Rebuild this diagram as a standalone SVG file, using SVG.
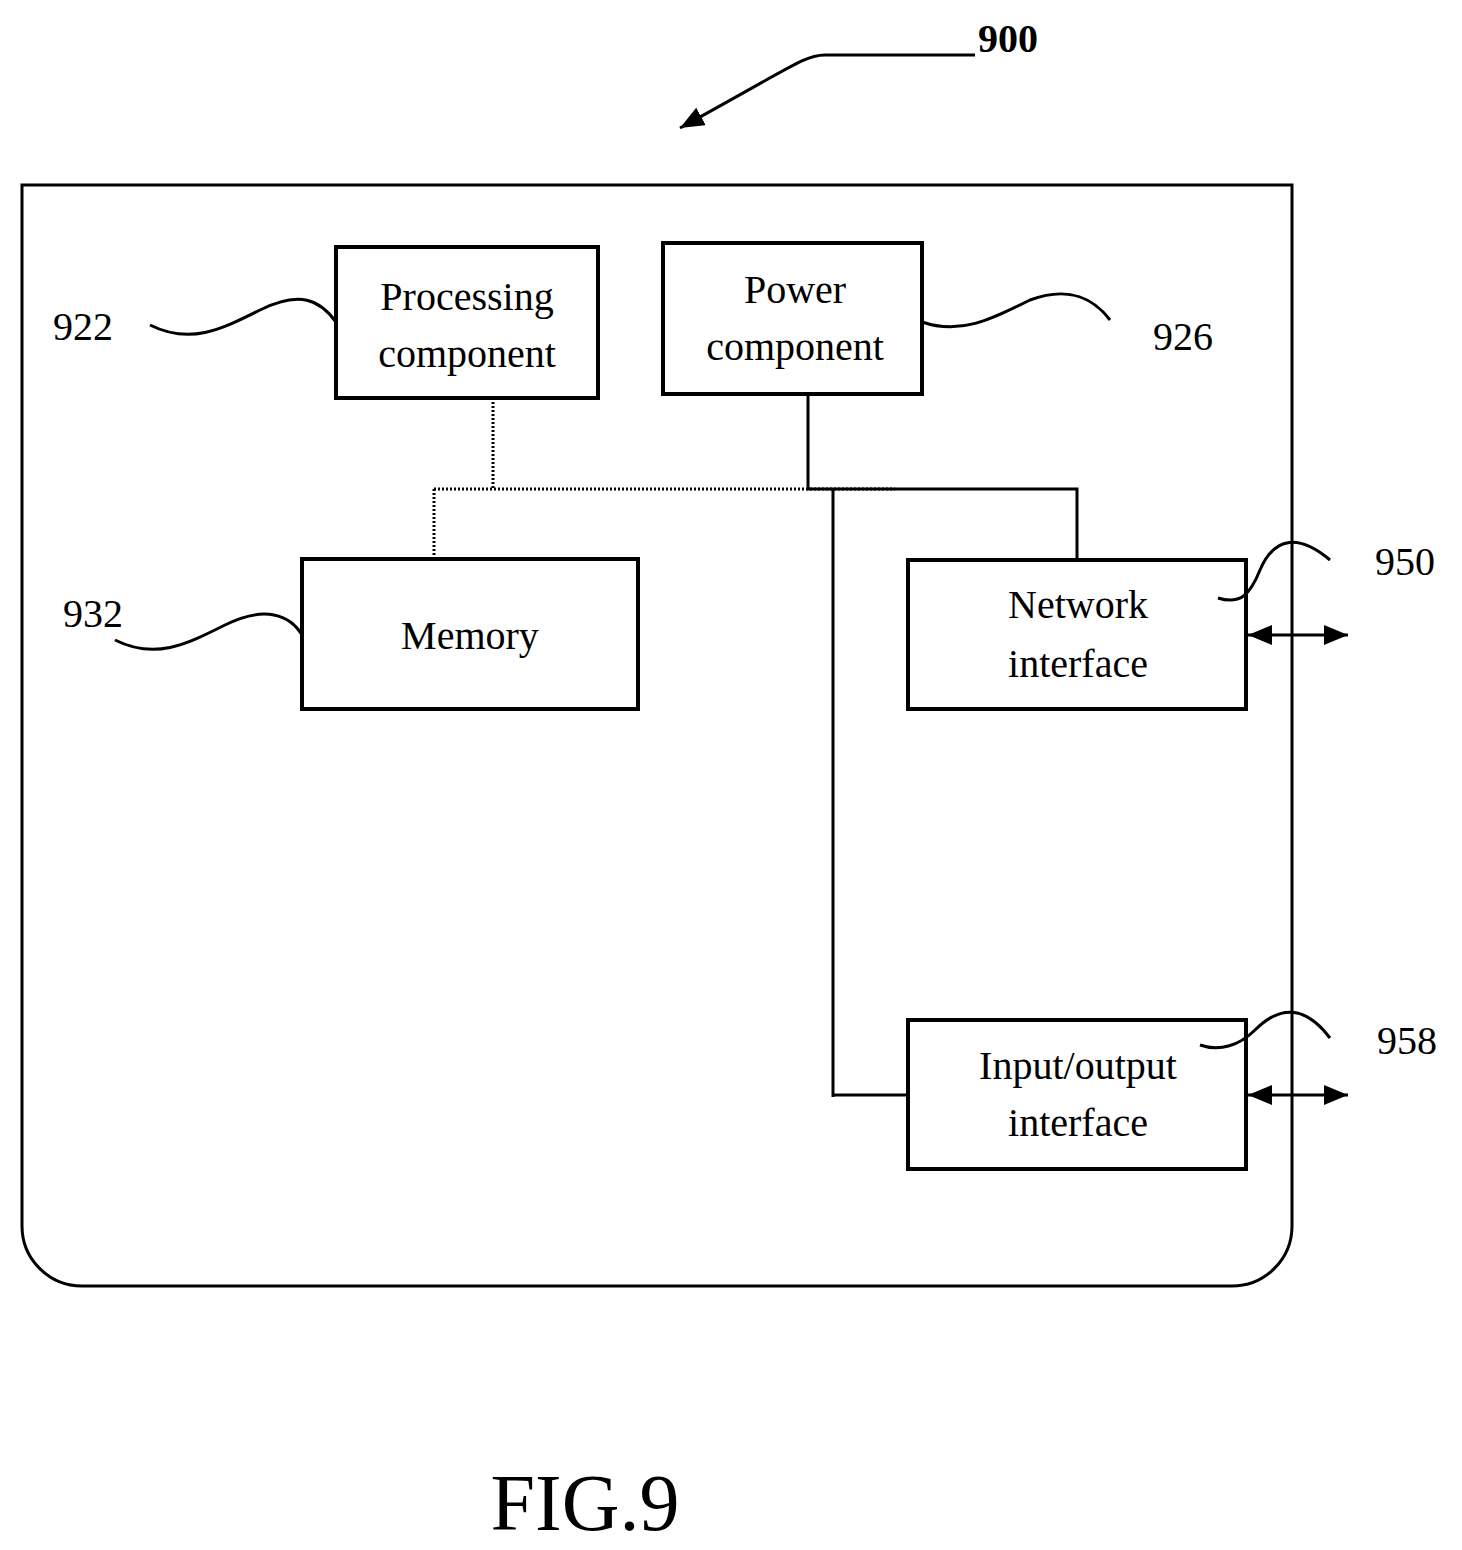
<svg xmlns="http://www.w3.org/2000/svg" width="1462" height="1550" viewBox="0 0 1462 1550">
<defs>
<style>
.box{fill:#fff;stroke:#000;stroke-width:4}
.t{font-family:"Liberation Serif",serif;font-size:40px;text-anchor:middle;fill:#000}
.ln{fill:none;stroke:#000;stroke-width:3}
.dot{fill:none;stroke:#000;stroke-width:3;stroke-dasharray:2 2}
</style>
<marker id="ah2" markerWidth="24" markerHeight="20" refX="24" refY="10" orient="auto-start-reverse" markerUnits="userSpaceOnUse"><path d="M0,0 L24,10 L0,20 z" fill="#000"/></marker>
</defs>
<rect width="1462" height="1550" fill="#fff"/>
<path d="M22,185 H1292 V1226 A60,60 0 0 1 1232,1286 H82 A60,60 0 0 1 22,1226 Z" fill="none" stroke="#000" stroke-width="3"/>
<g id="connectors">
<path class="dot" d="M493,398 V489 M434,489 H895 M434,489 V559"/>
<path class="ln" d="M808,394 V489 H1077 V560 M833,489 V1097 M833,1095 H908"/>
<path class="ln" d="M1248,635 H1348" marker-start="url(#ah2)" marker-end="url(#ah2)"/>
<path class="ln" d="M1248,1095 H1348" marker-start="url(#ah2)" marker-end="url(#ah2)"/>
<path class="ln" d="M150,325 C190,345 220,330 260,310 C300,290 320,300 336,322"/>
<path class="ln" d="M922,322 C960,335 990,320 1030,300 C1070,285 1095,300 1110,320"/>
<path class="ln" d="M115,640 C155,660 185,645 225,625 C265,605 290,615 302,635"/>
<path class="ln" d="M975,55 H825 C805,55 795,65 680,128" stroke-width="2.5" marker-end="url(#ah2)"/>
</g>
<g id="n922"><rect class="box" x="336" y="247" width="262" height="151"/><text class="t" x="467" y="310">Processing</text><text class="t" x="467" y="367">component</text></g>
<g id="n926"><rect class="box" x="663" y="243" width="259" height="151"/><text class="t" x="795" y="303">Power</text><text class="t" x="795" y="360">component</text></g>
<g id="n932"><rect class="box" x="302" y="559" width="336" height="150"/><text class="t" x="470" y="649">Memory</text></g>
<g id="n950"><rect class="box" x="908" y="560" width="338" height="149"/><text class="t" x="1078" y="618">Network</text><text class="t" x="1078" y="677">interface</text></g>
<g id="n958"><rect class="box" x="908" y="1020" width="338" height="149"/><text class="t" x="1078" y="1079">Input/output</text><text class="t" x="1078" y="1136">interface</text></g>
<g id="leaders">
<path class="ln" d="M1218,598 C1240,605 1250,595 1260,570 C1275,535 1300,535 1330,560"/>
<path class="ln" d="M1200,1045 C1220,1052 1240,1045 1255,1030 C1280,1005 1305,1005 1330,1038"/>
</g>
<g id="labels">
<text class="t" x="83" y="340">922</text>
<text class="t" x="1183" y="350">926</text>
<text class="t" x="93" y="627">932</text>
<text class="t" x="1405" y="575">950</text>
<text class="t" x="1407" y="1054">958</text>
<text class="t" x="1008" y="52" style="font-weight:bold">900</text>
<text class="t" x="585" y="1530" style="font-size:80px">FIG.9</text>
</g>
</svg>
